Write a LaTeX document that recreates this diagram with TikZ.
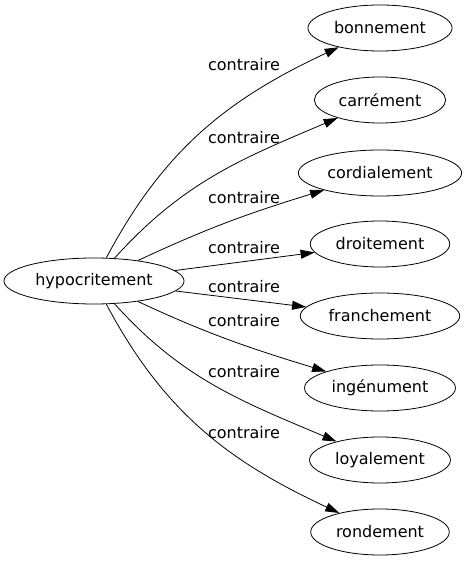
\documentclass[tikz,border=0pt]{standalone}
\usepackage{fontspec}
\setmainfont{DejaVu Sans}
\usetikzlibrary{arrows.meta,shapes.geometric}

\begin{document}
\begin{tikzpicture}[x=1pt,y=1pt,
  word/.style={ellipse,draw,line width=0.8pt,inner sep=5pt,minimum height=46pt,font=\fontsize{16}{18}\selectfont},
  rel/.style={font=\fontsize{16}{18}\selectfont,inner sep=0pt},
  link/.style={-{Triangle[length=14pt,width=9pt]},line width=0.8pt}
]
\useasboundingbox (0,0) rectangle (467,563);
\node[word] (hypo) at (94,282) {hypocritement};
\node[word] (bonn) at (380,535) {bonnement};
\node[word] (carr) at (380,463) {carrément};
\node[word] (cord) at (380,390) {cordialement};
\node[word] (droi) at (380,319) {droitement};
\node[word] (fran) at (380,247) {franchement};
\node[word] (inge) at (380,175) {ingénument};
\node[word] (loya) at (380,103) {loyalement};
\node[word] (rond) at (380,31) {rondement};
\draw[link] (hypo) to[out=62,in=205] (bonn);
\draw[link] (hypo) to[out=48,in=203] (carr);
\draw[link] (hypo) to[out=25,in=197] (cord);
\draw[link] (hypo) -- (droi);
\draw[link] (hypo) -- (fran);
\draw[link] (hypo) to[out=-25,in=163] (inge);
\draw[link] (hypo) to[out=-48,in=157] (loya);
\draw[link] (hypo) to[out=-62,in=155] (rond);
% edge labels
\node[rel] (r1) at (244,498) {contraire};
\node[rel] (r2) at (244,425) {contraire};
\node[rel] (r3) at (244,365) {contraire};
\node[rel] (r4) at (244,315) {contraire};
\node[rel] (r5) at (244,276) {contraire};
\node[rel] (r6) at (244,242) {contraire};
\node[rel] (r7) at (244,191) {contraire};
\node[rel] (r8) at (244,130) {contraire};
\end{tikzpicture}
\end{document}
